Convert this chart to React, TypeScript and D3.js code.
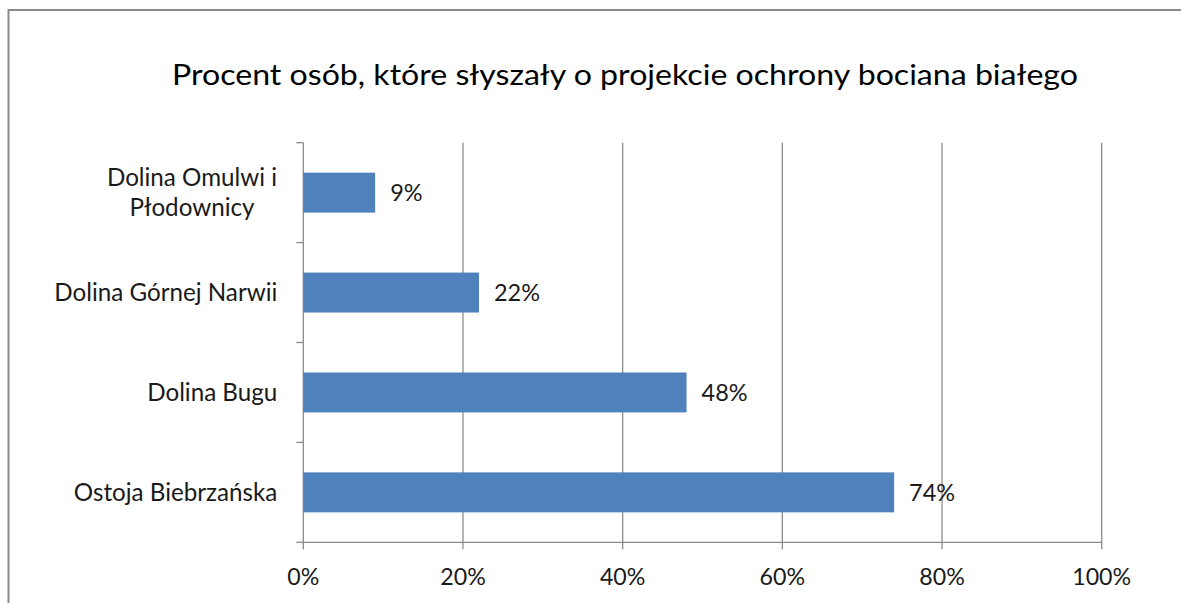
import React from "react";
import * as d3 from "d3";

const categories: string[][] = [
  ["Dolina Omulwi i", "Płodownicy"],
  ["Dolina Górnej Narwii"],
  ["Dolina Bugu"],
  ["Ostoja Biebrzańska"],
];
const values: number[] = [9, 22, 48, 74];
const xTicks: number[] = [0, 20, 40, 60, 80, 100];
const title = "Procent osób, które słyszały o projekcie ochrony bociana białego";

const W = 1181;
const H = 603;
const FONT = "Lato, 'Open Sans', sans-serif";

export default function App() {
  const left = 303.3;
  const right = 1101.7;
  const top = 142.7;
  const bottom = 542.3;
  const x = d3.scaleLinear().domain([0, 100]).range([left, right]);
  const y = d3
    .scaleBand<number>()
    .domain(d3.range(categories.length))
    .range([top, bottom])
    .paddingInner(0.6)
    .paddingOuter(0.3);
  const bandStep = (bottom - top) / categories.length;
  const grid = "#8c8c8c";
  return (
    <svg
      width={W}
      height={H}
      style={{ position: "fixed", left: 0, top: 0, background: "#fff", overflow: "hidden" }}
      fontFamily={FONT}
    >
      <rect x={0} y={0} width={W} height={H} fill="#fff" />
      <path d={`M8.5,${H} L8.5,10 L${W},10`} fill="none" stroke="#8a8a8a" strokeWidth={2} />
      <text x={625} y={85} textAnchor="middle" fontSize={28.5} fill="#000" textLength={906} lengthAdjust="spacingAndGlyphs">
        {title}
      </text>
      {xTicks.map((t) => (
        <line key={"g" + t} x1={x(t)} x2={x(t)} y1={top} y2={bottom + 7} stroke={grid} strokeWidth={1.3} />
      ))}
      {d3.range(categories.length + 1).map((i) => (
        <line
          key={"ct" + i}
          x1={left - 7}
          x2={left}
          y1={top + i * bandStep}
          y2={top + i * bandStep}
          stroke={grid}
          strokeWidth={1.3}
        />
      ))}
      <line x1={left} x2={right} y1={bottom} y2={bottom} stroke={grid} strokeWidth={1.3} />
      {values.map((v, i) => (
        <rect
          key={"b" + i}
          x={x(0)}
          y={y(i)!}
          width={x(v) - x(0)}
          height={y.bandwidth()}
          fill="#4f81bd"
        />
      ))}
      {values.map((v, i) => (
        <text key={"l" + i} x={x(v) + 15} y={y(i)! + y.bandwidth() / 2 + 8.5} fontSize={23.5} fill="#1a1a1a">
          {v + "%"}
        </text>
      ))}
      {categories.map((lines, i) => {
        const cy = top + (i + 0.5) * bandStep;
        const lh = 30;
        const startY = cy - ((lines.length - 1) * lh) / 2 + 8.5;
        const cx = lines.length > 1 ? 192 : left - 26;
        return (
          <text key={"c" + i} fontSize={24.2} fill="#1a1a1a" textAnchor={lines.length > 1 ? "middle" : "end"}>
            {lines.map((ln, j) => (
              <tspan key={j} x={cx} y={startY + j * lh}>
                {ln}
              </tspan>
            ))}
          </text>
        );
      })}
      {xTicks.map((t) => (
        <text key={"xt" + t} x={x(t)} y={585} textAnchor="middle" fontSize={23.2} fill="#1a1a1a">
          {t + "%"}
        </text>
      ))}
    </svg>
  );
}
